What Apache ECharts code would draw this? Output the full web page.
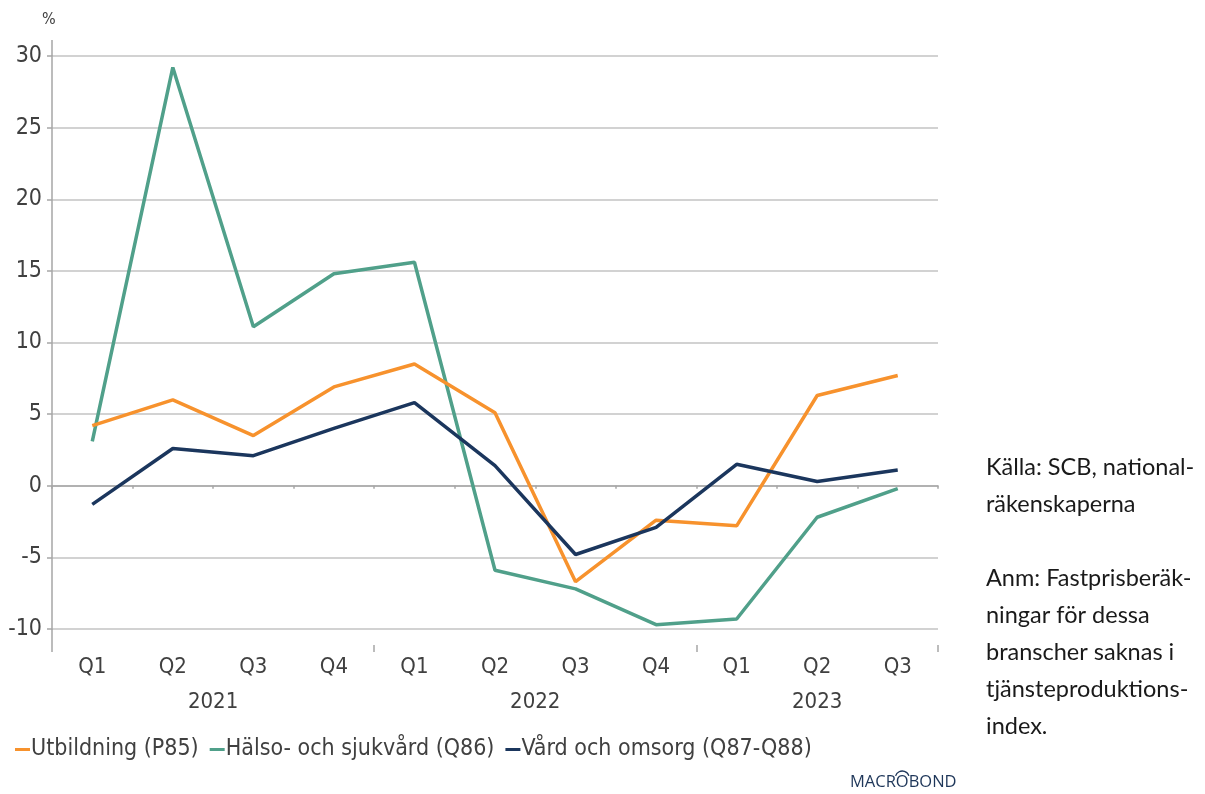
<!DOCTYPE html>
<html>
<head>
<meta charset="utf-8">
<script src="https://cdn.jsdelivr.net/npm/echarts@6/dist/echarts.min.js"></script>
<style>html,body{margin:0;padding:0;background:#fff;}#c{width:1205px;height:794px;}</style>
</head>
<body>
<div id="c"></div>
<script>
const quarters = ['Q1','Q2','Q3','Q4','Q1','Q2','Q3','Q4','Q1','Q2','Q3'];
const years = ['2021','2022','2023'];
const yearSpans = [4, 4, 3];
const seriesNames = ['Utbildning (P85)', 'Hälso- och sjukvård (Q86)', 'Vård och omsorg (Q87-Q88)'];
const utbildning = [4.2, 6.0, 3.5, 6.9, 8.5, 5.1, -6.7, -2.4, -2.8, 6.3, 7.7];
const halso = [3.1, 29.2, 11.1, 14.8, 15.6, -5.9, -7.2, -9.7, -9.3, -2.2, -0.2];
const vard = [-1.3, 2.6, 2.1, 4.0, 5.8, 1.4, -4.8, -2.9, 1.5, 0.3, 1.1];
const yMin = -10, yMax = 30, yStep = 5;
const colors = ['#F7922D', '#50A08A', '#1B365D'];
const noteText = 'Källa: SCB, national-\nräkenskaperna\n\nAnm: Fastprisberäk-\nningar för dessa\nbranscher saknas i\ntjänsteproduktions-\nindex.';

const FONT = "'Liberation Sans Narrow', 'DejaVu Sans Condensed', sans-serif";
const half = new Array(2 * quarters.length + 1).fill('');
let pos = 0;
years.forEach((y, i) => { half[pos + yearSpans[i]] = y; pos += 2 * yearSpans[i]; });
const yearStartIdx = [];
let acc = 0;
yearSpans.forEach(s => { yearStartIdx.push(acc); acc += s; });

const axisGray = '#a6a6a6';
const textGray = '#404040';

const chart = echarts.init(document.getElementById('c'), null, {renderer: 'canvas'});
const option = {
  animation: false,
  color: colors,
  textStyle: {fontFamily: FONT},
  grid: {left: 52, right: 267, top: 56, bottom: 165, containLabel: false, outerBoundsMode: 'none'},
  xAxis: [
    {
      type: 'category', data: quarters, boundaryGap: true, offset: 16, position: 'bottom',
      axisLine: {show: true, lineStyle: {color: axisGray, width: 1.5}},
      axisTick: {show: true, interval: 0, length: 3, lineStyle: {color: axisGray, width: 1.5}},
      axisLabel: {interval: 0, fontSize: 22, color: textGray, margin: 11, fontFamily: FONT},
      splitLine: {show: false}
    },
    {
      type: 'category', data: quarters, boundaryGap: true, offset: 16, position: 'bottom',
      axisLine: {show: false},
      axisTick: {show: true, interval: (i) => yearStartIdx.indexOf(i) >= 0, length: 7, lineStyle: {color: axisGray, width: 1.5}},
      axisLabel: {show: false},
      splitLine: {show: false}
    },
    {
      type: 'category', data: half, boundaryGap: false, offset: 16, position: 'bottom',
      axisLine: {show: false}, axisTick: {show: false},
      axisLabel: {interval: 0, fontSize: 22, color: textGray, margin: 46, fontFamily: FONT},
      splitLine: {show: false}
    }
  ],
  yAxis: {
    type: 'value', min: yMin, max: yMax, interval: yStep,
    axisLine: {show: true, lineStyle: {color: axisGray, width: 1.5}},
    axisTick: {show: true, length: 5, lineStyle: {color: axisGray, width: 1.5}},
    axisLabel: {fontSize: 23, color: textGray, margin: 10, fontFamily: FONT},
    splitLine: {show: true, lineStyle: {color: '#c3c3c3', width: 1.5}}
  },
  legend: {
    data: seriesNames, left: 10, top: 733, icon: 'rect', itemWidth: 15, itemHeight: 3, itemGap: 11,
    textStyle: {fontSize: 23, color: textGray, fontFamily: FONT, padding: [0, 0, 0, -4]}
  },
  series: [
    {name: seriesNames[0], type: 'line', data: utbildning, symbol: 'none', lineStyle: {width: 3.5, cap: 'butt'}, z: 3},
    {name: seriesNames[1], type: 'line', data: halso, symbol: 'none', lineStyle: {width: 3.5, cap: 'butt'}, z: 2},
    {name: seriesNames[2], type: 'line', data: vard, symbol: 'none', lineStyle: {width: 3.5, cap: 'butt'}, z: 4}
  ]
};
chart.setOption(option);

const axisX = 52;
const yTop = chart.convertToPixel({yAxisIndex: 0}, yMax);
const yBot = chart.convertToPixel({yAxisIndex: 0}, yMin);
const logoFont = "16.5px 'Open Sans', sans-serif";
const ctx = document.createElement('canvas').getContext('2d');
ctx.font = logoFont;
const logoLeft = 850;
const oCenter = logoLeft + ctx.measureText('MACR').width + ctx.measureText('O').width / 2;
chart.setOption({
  graphic: [
    {type: 'line', shape: {x1: axisX, y1: yTop - 16, x2: axisX, y2: yTop}, style: {stroke: axisGray, lineWidth: 1.5}},
    {type: 'line', shape: {x1: axisX, y1: yBot, x2: axisX, y2: yBot + 16}, style: {stroke: axisGray, lineWidth: 1.5}},
    {type: 'text', left: 42, top: 12, style: {text: '%', fontSize: 16, fill: textGray, fontFamily: FONT}},
    {type: 'text', left: 986, top: 449, style: {text: noteText, fontSize: 23.5, lineHeight: 37, fill: '#1a1a1a', fontFamily: "Lato, 'Open Sans', sans-serif"}},
    {type: 'text', left: logoLeft, top: 774, style: {text: 'MACROBOND', fontSize: 16.5, fill: '#1E3659', fontFamily: "'Open Sans', sans-serif"}},
    {type: 'arc', shape: {cx: oCenter, cy: 778, r: 7, startAngle: Math.PI * 1.1, endAngle: Math.PI * 1.9}, style: {stroke: '#1E3659', lineWidth: 1.3, fill: 'none'}}
  ]
});
</script>
</body>
</html>
